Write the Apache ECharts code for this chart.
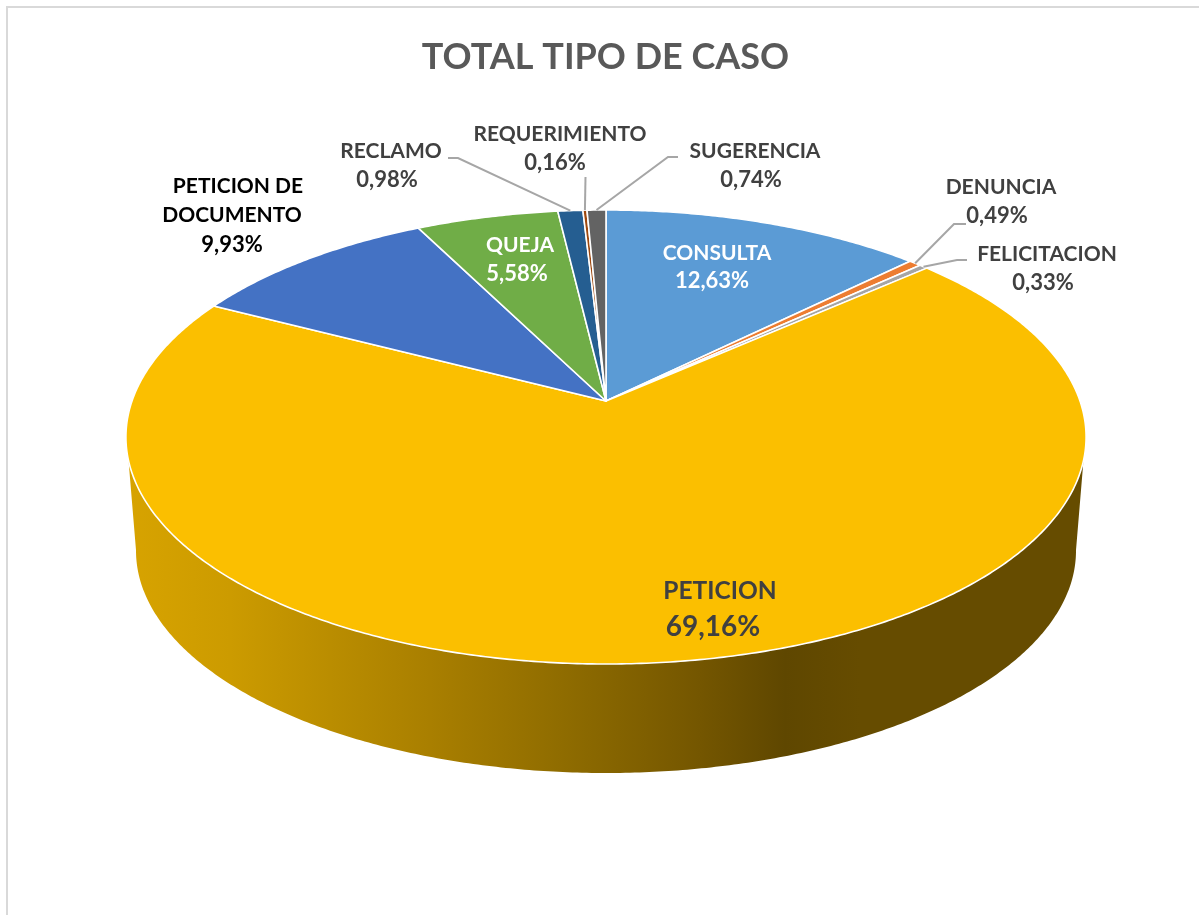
<!DOCTYPE html>
<html>
<head>
<meta charset="utf-8">
<title>Total tipo de caso</title>
<style>
  html, body { margin: 0; padding: 0; background: #fff; }
  #chart { width: 1199px; height: 915px; }
</style>
<script src="https://cdn.jsdelivr.net/npm/echarts@6/dist/echarts.min.js"></script>
</head>
<body>
<div id="chart"></div>
<script>
const titleText = 'TOTAL TIPO DE CASO';
const categories = ['CONSULTA', 'DENUNCIA', 'FELICITACION', 'PETICION', 'PETICION DE DOCUMENTO', 'QUEJA', 'RECLAMO', 'REQUERIMIENTO', 'SUGERENCIA'];
const shares = [12.63, 0.49, 0.33, 69.16, 9.93, 5.58, 0.98, 0.16, 0.74];
const sliceColors = ['#5b9bd5', '#ed7d31', '#a5a5a5', '#fbbf00', '#4472c4', '#70ad47', '#255e91', '#9e480e', '#636363'];

const FONT = 'Lato, "Open Sans", sans-serif';
const total = shares.reduce((a, b) => a + b, 0);
const cumulative = [];
shares.reduce((sum, v, i) => (cumulative[i] = sum, sum + v), 0);

// perspective of the tilted disc, worked out from the top, bottom and widest rim points
const CX = 606, APEX_Y = 401, RX = 474, RY = 221.3, K = 0.1586;
const WALL_SCALE = 0.979, WALL_DROP = 114.5;

function rim(deg, wall) {
  const t = deg * Math.PI / 180;
  const x = Math.sin(t), z = Math.cos(t);
  const d = 1 + K * z;
  const s = wall ? WALL_SCALE : 1;
  return [CX + s * RX * x / d, APEX_Y + (wall ? WALL_DROP : 0) - s * RY * z / d];
}

function arc(from, to, wall) {
  const n = Math.max(2, Math.ceil(Math.abs(to - from) * 2));
  const pts = [];
  for (let i = 0; i <= n; i++) pts.push(rim(from + (to - from) * i / n, wall));
  return pts;
}

function toDeg(v) { return v / total * 360; }

// label placement per category: name centre, value centre, leader elbow points
const labelLayout = [
  { name: [717, 253], pct: [712, 281], color: '#fff' },
  { name: [1001, 187], pct: [997, 216], color: '#404040', leader: [[966, 224], [954, 224]] },
  { name: [1047, 254], pct: [1043, 283], color: '#404040', leader: [[967, 260], [957, 260]] },
  { name: [720, 591], pct: [713, 627], color: '#404040', nameSize: 24.5, pctSize: 28 },
  { name: [232, 200], pct: [232, 245], color: '#000', lines: [[238, 186], [232, 215]] },
  { name: [520, 245], pct: [517, 274], color: '#fff' },
  { name: [391, 151], pct: [387, 180], color: '#404040', leader: [[448, 158], [458, 158]] },
  { name: [560, 134], pct: [555, 163], color: '#404040', leader: [[585.5, 177]] },
  { name: [755, 151], pct: [751, 180], color: '#404040', leader: [[678, 157], [668, 157]] }
];

function label(text, pos, color, size) {
  return {
    type: 'text', x: pos[0], y: pos[1],
    style: { text: text, fill: color, font: 'bold ' + size + 'px ' + FONT, align: 'center', verticalAlign: 'middle' }
  };
}

const wallStops = [[130, '#d7a300'], [230, '#cc9b00'], [330, '#ba8d00'], [430, '#a97f00'], [563, '#8f6c00'], [700, '#745600'], [785, '#5f4700'], [860, '#664c00'], [1084, '#664c00']];

const chart = echarts.init(document.getElementById('chart'), null, { renderer: 'canvas' });
chart.setOption({
  animation: false,
  backgroundColor: '#fff',
  title: {
    text: titleText,
    left: 600.5,
    top: 34,
    textAlign: 'center',
    textStyle: { color: '#595959', fontFamily: FONT, fontWeight: 'bold', fontSize: 36 }
  },
  graphic: [{
    type: 'polyline',
    silent: true,
    shape: { points: [[7, 915], [7, 7], [1199, 7]] },
    style: { stroke: '#d9d9d9', lineWidth: 2, fill: null }
  }],
  series: [
    {
      // side wall of the disc, only the front part shows
      type: 'custom',
      coordinateSystem: 'none',
      silent: true,
      z: 1,
      data: [[1]],
      renderItem: function () {
        const points = arc(105, 255, false).concat(arc(261, 99, true));
        return {
          type: 'polygon',
          shape: { points: points },
          style: {
            fill: new echarts.graphic.LinearGradient(130, 0, 1084, 0,
              wallStops.map(s => ({ offset: (s[0] - 130) / 954, color: s[1] })), true)
          }
        };
      }
    },
    {
      type: 'custom',
      coordinateSystem: 'none',
      silent: true,
      z: 2,
      data: shares.map((v, i) => [v, cumulative[i]]),
      renderItem: function (params, api) {
        const from = toDeg(api.value(1));
        const to = from + toDeg(api.value(0));
        return {
          type: 'polygon',
          shape: { points: [[CX, APEX_Y]].concat(arc(from, to, false)) },
          style: { fill: sliceColors[params.dataIndex], stroke: '#fff', lineWidth: 1.6, lineJoin: 'round' }
        };
      }
    },
    {
      // leaders and text
      type: 'custom',
      coordinateSystem: 'none',
      silent: true,
      z: 3,
      data: shares.map((v, i) => [v, cumulative[i]]),
      renderItem: function (params, api) {
        const i = params.dataIndex;
        const l = labelLayout[i];
        const pctText = api.value(0).toFixed(2).replace('.', ',') + '%';
        const nameSize = l.nameSize || 21;
        const pctSize = l.pctSize || 22;
        const children = [];
        if (l.leader) {
          const mid = toDeg(api.value(1) + api.value(0) / 2);
          children.push({
            type: 'polyline',
            shape: { points: l.leader.concat([rim(mid, false)]) },
            style: { stroke: '#a6a6a6', lineWidth: 2, fill: null }
          });
        }
        if (l.lines) {
          const words = categories[i].split(' ');
          children.push(label(words.slice(0, 2).join(' '), l.lines[0], l.color, nameSize));
          children.push(label(words.slice(2).join(' '), l.lines[1], l.color, nameSize));
        } else {
          children.push(label(categories[i], l.name, l.color, nameSize));
        }
        children.push(label(pctText, l.pct, l.color, pctSize));
        return { type: 'group', children: children };
      }
    }
  ]
});
window.addEventListener('resize', function () { chart.resize(); });
</script>
</body>
</html>
